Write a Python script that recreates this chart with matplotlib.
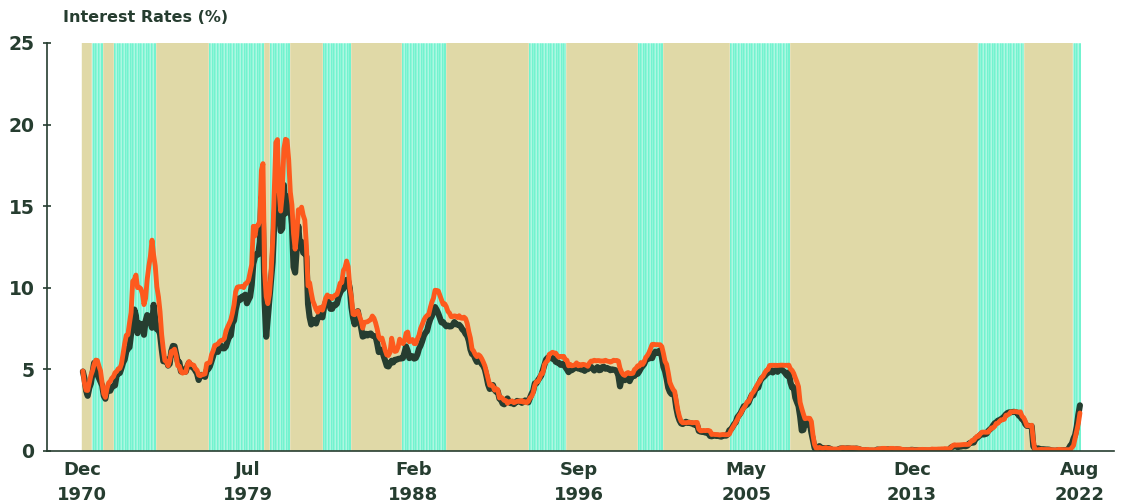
import matplotlib.pyplot as plt
import numpy as np

plt.rcParams['font.family'] = ['DejaVu Sans']
plt.rcParams['font.weight'] = 'bold'

# monthly values, Dec 1970 .. Aug 2022
first_month = "1970-12"

fed_funds = [
    4.90,
    4.14, 3.72, 3.71, 4.16, 4.63, 4.91, 5.31, 5.57, 5.55, 5.20, 4.91, 4.14,  # 1971
    3.50, 3.29, 3.83, 4.17, 4.27, 4.46, 4.55, 4.80, 4.87, 5.04, 5.06, 5.33,  # 1972
    5.94, 6.58, 7.09, 7.12, 7.84, 8.49, 10.40, 10.50, 10.78, 10.01, 10.03, 9.95,  # 1973
    9.65, 8.97, 9.35, 10.51, 11.31, 11.93, 12.92, 12.01, 11.34, 10.06, 9.45, 8.53,  # 1974
    7.13, 6.24, 5.54, 5.49, 5.22, 5.55, 6.10, 6.14, 6.24, 5.82, 5.22, 5.20,  # 1975
    4.87, 4.77, 4.84, 4.82, 5.29, 5.48, 5.31, 5.29, 5.25, 5.03, 4.95, 4.65,  # 1976
    4.61, 4.68, 4.69, 4.73, 5.35, 5.39, 5.42, 5.90, 6.14, 6.47, 6.51, 6.56,  # 1977
    6.70, 6.78, 6.79, 6.89, 7.36, 7.60, 7.81, 8.04, 8.45, 8.96, 9.76, 10.03,  # 1978
    10.07, 10.06, 10.09, 10.01, 10.24, 10.29, 10.47, 10.94, 11.43, 13.77, 13.18, 13.78,  # 1979
    13.82, 14.13, 17.19, 17.61, 10.98, 9.47, 9.03, 9.61, 10.87, 12.81, 15.85, 18.90,  # 1980
    19.08, 15.93, 14.70, 15.72, 18.52, 19.10, 19.04, 17.82, 15.87, 15.08, 13.31, 12.37,  # 1981
    13.22, 14.78, 14.68, 14.94, 14.45, 14.15, 12.59, 10.12, 10.31, 9.71, 9.20, 8.95,  # 1982
    8.68, 8.51, 8.77, 8.80, 8.63, 8.98, 9.37, 9.56, 9.45, 9.48, 9.34, 9.47,  # 1983
    9.56, 9.59, 9.91, 10.29, 10.32, 11.06, 11.23, 11.64, 11.30, 9.99, 9.43, 8.38,  # 1984
    8.35, 8.50, 8.58, 8.27, 7.97, 7.53, 7.88, 7.90, 7.92, 7.99, 8.05, 8.27,  # 1985
    8.14, 7.86, 7.48, 6.99, 6.85, 6.92, 6.56, 6.17, 5.89, 5.85, 6.04, 6.91,  # 1986
    6.43, 6.10, 6.13, 6.37, 6.85, 6.73, 6.58, 6.73, 7.22, 7.29, 6.69, 6.77,  # 1987
    6.83, 6.58, 6.58, 6.87, 7.09, 7.51, 7.75, 8.01, 8.19, 8.30, 8.35, 8.76,  # 1988
    9.12, 9.36, 9.85, 9.84, 9.81, 9.53, 9.24, 8.99, 9.02, 8.84, 8.55, 8.45,  # 1989
    8.23, 8.24, 8.28, 8.26, 8.18, 8.29, 8.15, 8.13, 8.20, 8.11, 7.81, 7.31,  # 1990
    6.91, 6.25, 6.12, 5.91, 5.78, 5.90, 5.82, 5.66, 5.45, 5.21, 4.81, 4.43,  # 1991
    4.03, 4.06, 3.98, 3.73, 3.82, 3.76, 3.25, 3.30, 3.22, 3.10, 3.09, 2.92,  # 1992
    3.02, 3.03, 3.07, 2.96, 3.00, 3.04, 3.06, 3.03, 3.09, 2.99, 3.02, 2.96,  # 1993
    3.05, 3.25, 3.34, 3.56, 4.01, 4.25, 4.26, 4.47, 4.73, 4.76, 5.29, 5.45,  # 1994
    5.53, 5.92, 5.98, 6.05, 6.01, 6.00, 5.85, 5.74, 5.80, 5.76, 5.80, 5.60,  # 1995
    5.56, 5.22, 5.31, 5.22, 5.24, 5.27, 5.40, 5.22, 5.30, 5.24, 5.31, 5.29,  # 1996
    5.25, 5.19, 5.39, 5.51, 5.50, 5.56, 5.52, 5.54, 5.54, 5.50, 5.52, 5.50,  # 1997
    5.56, 5.51, 5.49, 5.45, 5.49, 5.56, 5.54, 5.55, 5.51, 5.07, 4.83, 4.68,  # 1998
    4.63, 4.76, 4.81, 4.74, 4.74, 4.76, 4.99, 5.07, 5.22, 5.20, 5.42, 5.30,  # 1999
    5.45, 5.73, 5.85, 6.02, 6.27, 6.53, 6.54, 6.50, 6.52, 6.51, 6.51, 6.40,  # 2000
    5.98, 5.49, 5.31, 4.80, 4.21, 3.97, 3.77, 3.65, 3.07, 2.49, 2.09, 1.82,  # 2001
    1.73, 1.74, 1.73, 1.75, 1.75, 1.75, 1.73, 1.74, 1.75, 1.75, 1.34, 1.24,  # 2002
    1.24, 1.26, 1.25, 1.26, 1.26, 1.22, 1.01, 1.03, 1.01, 1.01, 1.00, 0.98,  # 2003
    1.00, 1.01, 1.00, 1.00, 1.00, 1.03, 1.26, 1.43, 1.61, 1.76, 1.93, 2.16,  # 2004
    2.28, 2.50, 2.63, 2.79, 3.00, 3.04, 3.26, 3.50, 3.62, 3.78, 4.00, 4.16,  # 2005
    4.29, 4.49, 4.59, 4.79, 4.94, 4.99, 5.24, 5.25, 5.25, 5.25, 5.25, 5.24,  # 2006
    5.25, 5.26, 5.26, 5.25, 5.25, 5.25, 5.26, 5.02, 4.94, 4.76, 4.49, 4.24,  # 2007
    3.94, 2.98, 2.61, 2.28, 1.98, 2.00, 2.01, 2.00, 1.81, 0.97, 0.39, 0.16,  # 2008
    0.15, 0.22, 0.18, 0.15, 0.18, 0.21, 0.16, 0.16, 0.15, 0.12, 0.12, 0.12,  # 2009
    0.11, 0.13, 0.16, 0.20, 0.20, 0.18, 0.18, 0.19, 0.19, 0.19, 0.19, 0.18,  # 2010
    0.17, 0.16, 0.14, 0.10, 0.09, 0.09, 0.07, 0.10, 0.08, 0.07, 0.08, 0.07,  # 2011
    0.08, 0.10, 0.13, 0.14, 0.16, 0.16, 0.16, 0.13, 0.14, 0.16, 0.16, 0.16,  # 2012
    0.14, 0.15, 0.14, 0.15, 0.11, 0.09, 0.09, 0.08, 0.08, 0.09, 0.08, 0.09,  # 2013
    0.07, 0.07, 0.08, 0.09, 0.09, 0.10, 0.09, 0.09, 0.09, 0.09, 0.09, 0.12,  # 2014
    0.11, 0.11, 0.11, 0.12, 0.12, 0.13, 0.13, 0.14, 0.14, 0.12, 0.12, 0.24,  # 2015
    0.34, 0.38, 0.36, 0.37, 0.37, 0.38, 0.39, 0.40, 0.40, 0.40, 0.41, 0.54,  # 2016
    0.65, 0.66, 0.79, 0.90, 0.91, 1.04, 1.15, 1.16, 1.15, 1.15, 1.16, 1.30,  # 2017
    1.41, 1.42, 1.51, 1.69, 1.70, 1.82, 1.91, 1.91, 1.95, 2.19, 2.20, 2.27,  # 2018
    2.40, 2.40, 2.41, 2.42, 2.39, 2.38, 2.40, 2.13, 2.04, 1.83, 1.55, 1.55,  # 2019
    1.55, 1.58, 0.65, 0.05, 0.05, 0.08, 0.09, 0.10, 0.09, 0.09, 0.09, 0.09,  # 2020
    0.09, 0.08, 0.07, 0.07, 0.06, 0.08, 0.10, 0.09, 0.08, 0.08, 0.08, 0.08,  # 2021
    0.08, 0.08, 0.20, 0.33, 0.77, 1.21, 1.68, 2.33,  # 2022
]

tbill_3m = [
    4.87,
    4.44, 3.70, 3.38, 3.86, 4.14, 4.75, 5.40, 4.94, 4.69, 4.46, 4.22, 4.01,  # 1971
    3.38, 3.20, 3.73, 3.71, 3.69, 3.91, 3.98, 4.02, 4.66, 4.74, 4.78, 5.07,  # 1972
    5.41, 5.60, 6.09, 6.26, 6.36, 7.19, 8.01, 8.67, 8.29, 7.22, 7.83, 7.45,  # 1973
    7.77, 7.12, 7.96, 8.33, 8.23, 7.90, 7.55, 8.96, 8.06, 7.46, 7.47, 7.15,  # 1974
    6.26, 5.50, 5.49, 5.61, 5.23, 5.34, 6.13, 6.44, 6.42, 5.96, 5.48, 5.44,  # 1975
    4.87, 4.88, 5.00, 4.86, 5.20, 5.41, 5.23, 5.14, 5.08, 4.92, 4.75, 4.35,  # 1976
    4.62, 4.67, 4.60, 4.54, 4.96, 5.02, 5.19, 5.49, 5.81, 6.16, 6.10, 6.07,  # 1977
    6.44, 6.45, 6.29, 6.29, 6.41, 6.73, 7.01, 7.08, 7.85, 7.99, 8.64, 9.08,  # 1978
    9.35, 9.27, 9.46, 9.49, 9.58, 9.05, 9.26, 9.45, 10.18, 11.47, 11.87, 12.07,  # 1979
    12.04, 12.81, 15.53, 14.00, 9.15, 7.00, 8.13, 9.26, 10.32, 11.58, 13.89, 15.66,  # 1980
    14.72, 14.90, 13.48, 13.63, 16.30, 14.56, 14.70, 15.61, 14.95, 13.87, 11.27, 10.93,  # 1981
    12.41, 13.78, 12.49, 12.82, 12.15, 12.11, 11.91, 9.01, 8.20, 7.75, 8.04, 8.01,  # 1982
    7.81, 8.13, 8.30, 8.25, 8.19, 8.82, 9.12, 9.39, 9.05, 8.71, 8.71, 8.96,  # 1983
    8.93, 9.03, 9.44, 9.69, 9.90, 9.94, 10.13, 10.49, 10.41, 9.97, 8.79, 8.16,  # 1984
    7.76, 8.22, 8.57, 8.00, 7.56, 7.01, 7.05, 7.18, 7.08, 7.17, 7.20, 7.07,  # 1985
    7.04, 7.03, 6.59, 6.06, 6.12, 6.21, 5.83, 5.53, 5.21, 5.18, 5.35, 5.53,  # 1986
    5.43, 5.59, 5.59, 5.64, 5.66, 5.67, 5.69, 6.04, 6.40, 6.13, 5.69, 5.77,  # 1987
    5.81, 5.66, 5.70, 5.91, 6.26, 6.46, 6.73, 7.06, 7.24, 7.35, 7.76, 8.07,  # 1988
    8.27, 8.53, 8.82, 8.65, 8.43, 8.15, 7.88, 7.90, 7.75, 7.64, 7.69, 7.63,  # 1989
    7.64, 7.74, 7.90, 7.77, 7.74, 7.73, 7.62, 7.45, 7.36, 7.17, 7.06, 6.74,  # 1990
    6.22, 5.94, 5.91, 5.65, 5.46, 5.57, 5.58, 5.33, 5.22, 4.99, 4.56, 4.07,  # 1991
    3.80, 3.84, 4.04, 3.75, 3.63, 3.66, 3.21, 3.13, 2.91, 2.86, 3.13, 3.22,  # 1992
    3.00, 2.93, 2.95, 2.87, 2.96, 3.07, 3.04, 3.02, 2.95, 3.02, 3.10, 3.06,  # 1993
    2.98, 3.25, 3.50, 3.68, 4.14, 4.14, 4.33, 4.48, 4.62, 4.95, 5.29, 5.60,  # 1994
    5.71, 5.77, 5.73, 5.65, 5.67, 5.47, 5.42, 5.40, 5.28, 5.28, 5.36, 5.14,  # 1995
    5.00, 4.83, 4.96, 4.95, 5.02, 5.09, 5.15, 5.05, 5.09, 4.99, 5.03, 4.91,  # 1996
    5.03, 5.01, 5.14, 5.16, 5.05, 4.93, 5.05, 5.14, 4.95, 4.97, 5.14, 5.16,  # 1997
    5.04, 5.09, 5.03, 4.95, 5.00, 4.98, 4.96, 4.90, 4.61, 3.96, 4.41, 4.39,  # 1998
    4.34, 4.45, 4.48, 4.28, 4.51, 4.59, 4.60, 4.76, 4.73, 4.88, 5.07, 5.20,  # 1999
    5.32, 5.55, 5.69, 5.66, 5.79, 5.69, 5.96, 6.09, 6.00, 6.11, 6.17, 5.77,  # 2000
    5.15, 4.88, 4.42, 3.87, 3.62, 3.49, 3.51, 3.36, 2.64, 2.16, 1.87, 1.69,  # 2001
    1.65, 1.73, 1.79, 1.72, 1.73, 1.70, 1.68, 1.62, 1.63, 1.58, 1.23, 1.19,  # 2002
    1.17, 1.17, 1.13, 1.13, 1.07, 0.92, 0.90, 0.95, 0.94, 0.92, 0.93, 0.90,  # 2003
    0.88, 0.93, 0.94, 0.94, 1.02, 1.27, 1.33, 1.48, 1.65, 1.76, 2.07, 2.19,  # 2004
    2.33, 2.54, 2.74, 2.78, 2.84, 2.97, 3.22, 3.44, 3.42, 3.71, 3.88, 3.89,  # 2005
    4.24, 4.43, 4.51, 4.60, 4.72, 4.79, 4.95, 4.96, 4.81, 4.92, 4.94, 4.85,  # 2006
    4.98, 5.03, 4.94, 4.87, 4.73, 4.61, 4.82, 4.20, 3.89, 3.90, 3.27, 3.00,  # 2007
    2.75, 2.12, 1.26, 1.29, 1.73, 1.86, 1.63, 1.72, 1.13, 0.67, 0.19, 0.03,  # 2008
    0.13, 0.30, 0.21, 0.16, 0.18, 0.18, 0.18, 0.17, 0.12, 0.07, 0.05, 0.05,  # 2009
    0.06, 0.11, 0.15, 0.16, 0.16, 0.12, 0.16, 0.16, 0.15, 0.13, 0.14, 0.14,  # 2010
    0.15, 0.13, 0.10, 0.06, 0.04, 0.04, 0.04, 0.02, 0.01, 0.02, 0.01, 0.01,  # 2011
    0.03, 0.09, 0.08, 0.08, 0.09, 0.09, 0.10, 0.10, 0.11, 0.10, 0.09, 0.07,  # 2012
    0.07, 0.10, 0.09, 0.06, 0.04, 0.05, 0.04, 0.04, 0.02, 0.05, 0.07, 0.07,  # 2013
    0.04, 0.05, 0.05, 0.03, 0.03, 0.04, 0.03, 0.03, 0.02, 0.02, 0.02, 0.03,  # 2014
    0.03, 0.02, 0.03, 0.02, 0.02, 0.02, 0.03, 0.07, 0.02, 0.02, 0.13, 0.23,  # 2015
    0.26, 0.31, 0.29, 0.23, 0.27, 0.27, 0.30, 0.30, 0.29, 0.33, 0.45, 0.51,  # 2016
    0.51, 0.52, 0.74, 0.80, 0.89, 0.98, 1.07, 1.01, 1.03, 1.07, 1.23, 1.32,  # 2017
    1.41, 1.57, 1.70, 1.76, 1.86, 1.90, 1.96, 2.03, 2.13, 2.25, 2.33, 2.37,  # 2018
    2.37, 2.39, 2.40, 2.38, 2.35, 2.17, 2.10, 1.95, 1.89, 1.65, 1.54, 1.54,  # 2019
    1.52, 1.52, 0.29, 0.14, 0.13, 0.16, 0.13, 0.10, 0.11, 0.10, 0.09, 0.09,  # 2020
    0.08, 0.04, 0.03, 0.02, 0.02, 0.04, 0.05, 0.05, 0.04, 0.05, 0.05, 0.06,  # 2021
    0.15, 0.33, 0.44, 0.76, 0.98, 1.49, 2.23, 2.80,  # 2022
]

# rising-rate periods shown as the cyan stripes (first month, last month)
hike_periods = [
    ("1971-06", "1971-12"), ("1972-08", "1974-09"), ("1977-07", "1980-04"),
    ("1980-09", "1981-08"), ("1983-06", "1984-10"), ("1987-07", "1989-09"),
    ("1994-02", "1995-12"), ("1999-10", "2000-12"), ("2004-07", "2007-07"),
    ("2017-05", "2019-09"), ("2022-04", "2022-08"),
]

tick_dates = ["1970-12", "1979-07", "1988-02", "1996-09", "2005-05", "2013-12", "2022-08"]
tick_labels = ["Dec\n1970", "Jul\n1979", "Feb\n1988", "Sep\n1996", "May\n2005", "Dec\n2013", "Aug\n2022"]
y_ticks = [0, 5, 10, 15, 20, 25]


def to_year(s):
    y, m = s.split("-")
    return int(y) + (int(m) - 1) / 12


dark = '#263d30'
khaki = '#e0d9a7'
cyan = '#4ff0c3'

months = to_year(first_month) + np.arange(len(fed_funds)) / 12
hike = np.zeros(len(months), dtype=bool)
for a, b in hike_periods:
    hike |= (months >= to_year(a) - 1e-6) & (months <= to_year(b) + 1e-6)

fig = plt.figure(figsize=(11.22, 5.04), dpi=100)
ax = fig.add_axes([47 / 1122, 53 / 504, 1067 / 1122, 408 / 504])

# background: one bar per month
ax.bar(months[~hike], 25, width=1 / 12, align='edge', color=khaki,
       edgecolor=khaki, linewidth=0.3, zorder=1)
ax.bar(months[hike], 25, width=1 / 12, align='edge', color=cyan,
       edgecolor='white', linewidth=0.3, zorder=1)

mid = months + 1 / 24
ax.plot(mid, tbill_3m, color=dark, lw=4.4, solid_joinstyle='round',
        solid_capstyle='round', zorder=3)
ax.plot(mid, fed_funds, color='#fd5a1e', lw=3.5, solid_joinstyle='round',
        solid_capstyle='round', zorder=4)

ax.set_xlim(1969.1, 2024.39)
ax.set_ylim(0, 25)

ax.set_yticks(y_ticks)
ax.set_yticklabels([str(v) for v in y_ticks], fontsize=13.5, fontweight='bold', color=dark)
ax.tick_params(axis='y', direction='inout', length=6, width=1.2, color=dark, pad=6)

ax.set_xticks([to_year(d) for d in tick_dates])
ax.set_xticklabels(tick_labels, fontsize=13, fontweight='bold', color=dark, linespacing=1.5)
ax.tick_params(axis='x', length=0, pad=7)

for s in ['top', 'right']:
    ax.spines[s].set_visible(False)
ax.spines['left'].set_color(dark)
ax.spines['left'].set_linewidth(1.2)
ax.spines['bottom'].set_color(dark)
ax.spines['bottom'].set_linewidth(1.2)
ax.spines['bottom'].set_zorder(5)

fig.text(63 / 1122, 1 - 18 / 504, 'Interest Rates (%)', fontsize=11.5,
         fontweight='bold', color=dark, va='center', ha='left')

fig.savefig('out.png', dpi=100)
